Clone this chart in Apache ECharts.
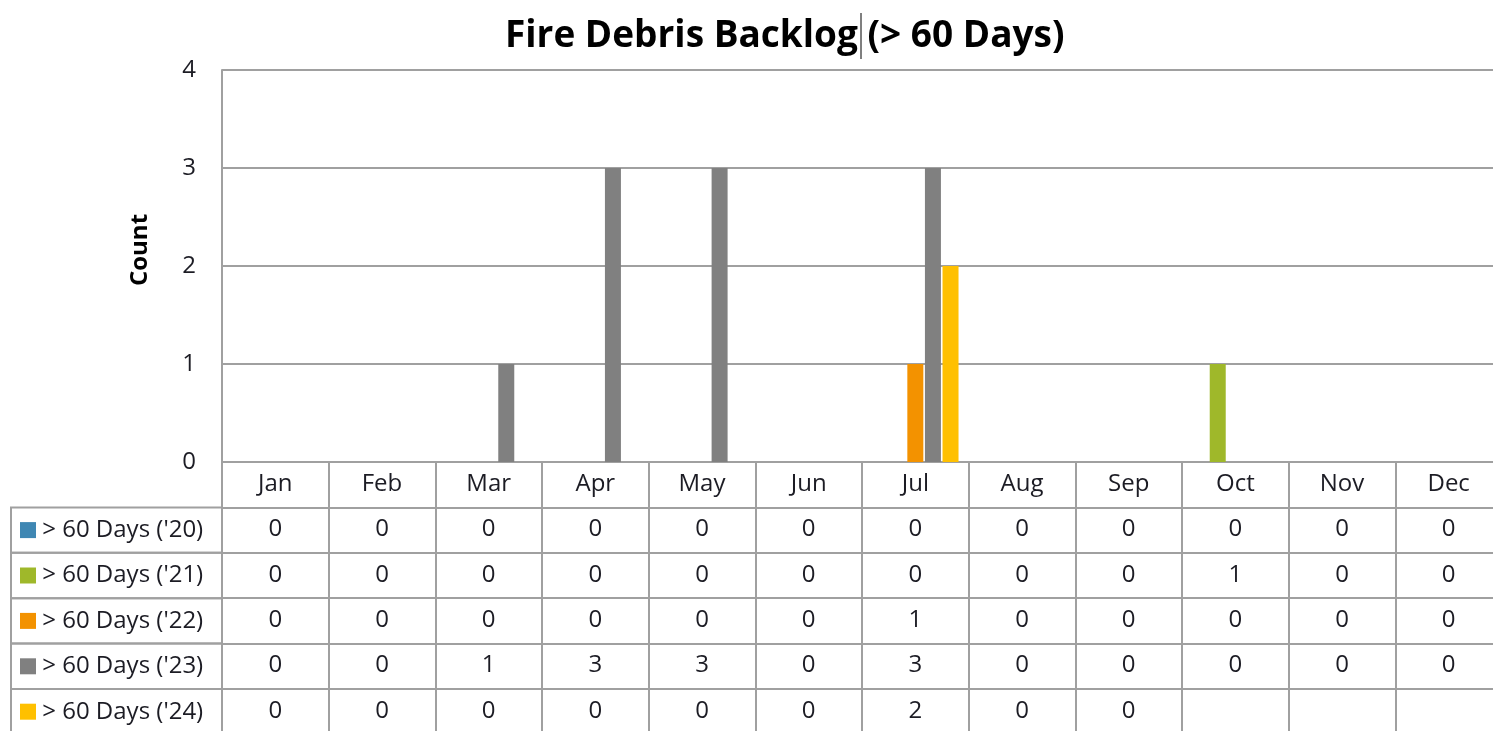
<!DOCTYPE html>
<html>
<head>
<meta charset="utf-8">
<script src="https://cdn.jsdelivr.net/npm/echarts@6/dist/echarts.min.js"></script>
<style>
  html, body { margin: 0; padding: 0; background: #fff; }
  #chart { width: 1493px; height: 731px; }
</style>
</head>
<body>
<div id="chart"></div>
<script>
// data
const months = ["Jan", "Feb", "Mar", "Apr", "May", "Jun", "Jul", "Aug", "Sep", "Oct", "Nov", "Dec"];
const seriesNames = ["> 60 Days ('20)", "> 60 Days ('21)", "> 60 Days ('22)", "> 60 Days ('23)", "> 60 Days ('24)"];
const d20 = [0, 0, 0, 0, 0, 0, 0, 0, 0, 0, 0, 0];
const d21 = [0, 0, 0, 0, 0, 0, 0, 0, 0, 1, 0, 0];
const d22 = [0, 0, 0, 0, 0, 0, 1, 0, 0, 0, 0, 0];
const d23 = [0, 0, 1, 3, 3, 0, 3, 0, 0, 0, 0, 0];
const d24 = [0, 0, 0, 0, 0, 0, 2, 0, 0, null, null, null];
const yTicks = [0, 1, 2, 3, 4];

const colors = ["#3f87b3", "#9fb82a", "#f39200", "#808080", "#ffc000"];
const rows = [d20, d21, d22, d23, d24];

const FONT = "Open Sans";
const LINE = "#a0a0a0";
const TXT = "#1c1c24";
const ROW_H = 45.4;
const FS = 24;

const chart = echarts.init(document.getElementById("chart"));

// one extra x axis per table row, stacked under the plot
const tableAxes = rows.map((row, k) => ({
  type: "category",
  gridIndex: 0,
  position: "bottom",
  offset: ROW_H * (k + 1),
  data: months,
  axisLine: { show: true, lineStyle: { color: LINE, width: 2 } },
  axisTick: { show: true, interval: 0, length: ROW_H, lineStyle: { color: LINE, width: 2 } },
  axisLabel: {
    interval: 0,
    margin: 10,
    lineHeight: FS,
    fontFamily: FONT,
    fontSize: FS,
    color: TXT,
    formatter: (v, i) => (row[i] == null ? "" : String(row[i])),
  },
  name: "{sq|}{t| " + seriesNames[k] + "}",
  nameLocation: "start",
  nameGap: 211,
  nameTextStyle: {
    align: "left",
    verticalAlign: "top",
    lineHeight: ROW_H,
    padding: [0, 0, 0, 9],
    borderColor: LINE,
    borderWidth: 2,
    rich: {
      sq: { width: 16, height: 16, backgroundColor: colors[k] },
      t: { width: 186, fontFamily: FONT, fontSize: FS, color: TXT, lineHeight: ROW_H },
    },
  },
}));

const option = {
  animation: false,
  color: colors,
  title: {
    text: "Fire Debris Backlog (> 60 Days)",
    left: 500,
    top: 13,
    textStyle: { fontFamily: FONT, fontWeight: "bold", fontSize: 37, color: "#000" },
  },
  graphic: [
    // text cursor left in the original title
    { type: "line", shape: { x1: 861, y1: 13, x2: 861, y2: 59 }, style: { stroke: "#000", lineWidth: 1 } },
  ],
  grid: { left: 222, top: 70, width: 1280, bottom: 269, outerBoundsMode: "none" },
  xAxis: [
    {
      type: "category",
      data: months,
      position: "bottom",
      axisLine: { show: true, lineStyle: { color: LINE, width: 2 } },
      axisTick: { show: true, interval: 0, length: ROW_H, lineStyle: { color: LINE, width: 2 } },
      axisLabel: { interval: 0, margin: 10, lineHeight: FS, fontFamily: FONT, fontSize: FS, color: TXT },
      splitLine: { show: false },
    },
    ...tableAxes,
  ],
  yAxis: {
    type: "value",
    min: yTicks[0],
    max: yTicks[yTicks.length - 1],
    interval: 1,
    axisLine: { show: true, lineStyle: { color: LINE, width: 2 } },
    axisTick: { show: false },
    axisLabel: { margin: 26, fontFamily: FONT, fontSize: FS, color: TXT },
    splitLine: { show: true, lineStyle: { color: LINE, width: 2 } },
    name: "Count",
    nameLocation: "middle",
    nameRotate: 90,
    nameGap: 70,
    nameTextStyle: { fontFamily: FONT, fontWeight: "bold", fontSize: FS, color: "#000", padding: [0, 0, 0, 32] },
  },
  series: rows.map((row, k) => ({
    name: seriesNames[k],
    type: "bar",
    data: row,
    barWidth: 16,
    barGap: "10%",
    itemStyle: { color: colors[k] },
  })),
};

chart.setOption(option);
</script>
</body>
</html>
